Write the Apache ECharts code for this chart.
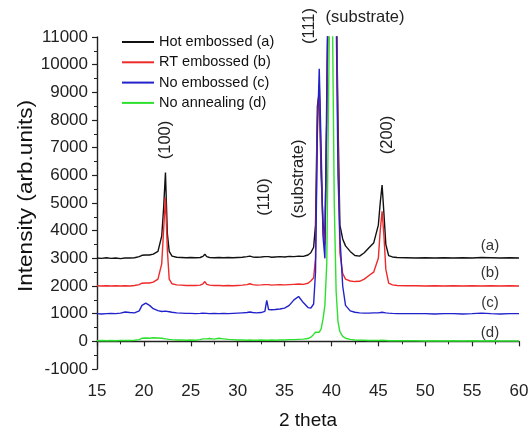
<!DOCTYPE html>
<html>
<head>
<meta charset="utf-8">
<script src="https://cdn.jsdelivr.net/npm/echarts@6/dist/echarts.min.js"></script>
<style>
html,body{margin:0;padding:0;background:#fff;}
#chart{width:532px;height:435px;}
</style>
</head>
<body>
<div id="chart"></div>
<script>
const twoTheta = [
15, 15.5, 16, 16.5, 17, 17.5, 18, 18.2, 18.5, 19,
19.5, 19.8, 20.2, 20.6, 21, 21.5, 21.9, 22.1, 22.3, 22.5,
22.7, 23, 23.5, 24, 24.5, 25, 25.5, 26, 26.3, 26.5,
26.7, 27, 27.5, 28, 28.5, 29, 29.5, 30, 30.5, 31,
31.3, 31.6, 32, 32.5, 32.9, 33.1, 33.3, 33.6, 34, 34.5,
35, 35.5, 36, 36.5, 37, 37.5, 37.8, 38.1, 38.3, 38.5,
38.7, 38.9, 39.1, 39.3, 39.5, 39.7, 39.9, 40.1, 40.3, 40.5,
40.7, 40.9, 41.2, 41.5, 42, 42.5, 43, 43.5, 44, 44.5,
45, 45.2, 45.4, 45.6, 45.8, 46.1, 46.5, 47, 48, 49,
50, 51, 52, 53, 54, 55, 56, 57, 58, 59,
60
];
const hotEmbossed = [
3010, 3000, 3020, 3000, 3010, 2990, 3010, 3030, 3010, 3020,
3060, 3110, 3120, 3120, 3150, 3250, 3800, 4800, 6100, 3900,
3250, 3080, 3040, 3030, 3020, 3030, 3020, 3030, 3070, 3150,
3060, 3030, 3020, 3030, 3020, 3030, 3020, 3030, 3040, 3060,
3080, 3050, 3040, 3050, 3060, 3110, 3060, 3040, 3050, 3060,
3050, 3070, 3060, 3080, 3070, 3120, 3200, 3400, 4200, 8500,
9000, 6000, 4300, 3700, 8000, 14000, 20000, 20000, 18000, 13000,
8000, 4200, 3700, 3450, 3250, 3100, 3080, 3200, 3380, 3550,
4200, 5000, 5650, 4600, 3500, 3100, 3050, 3030, 3020, 3010,
3020, 3010, 3020, 3010, 3020, 3010, 3030, 3020, 3010, 3020,
3010
];
const rtEmbossed = [
2010, 2000, 2010, 2000, 2010, 2000, 2010, 2020, 2000, 2020,
2050, 2100, 2110, 2110, 2140, 2250, 2800, 4000, 5200, 3300,
2250, 2080, 2040, 2030, 2020, 2020, 2020, 2030, 2080, 2160,
2060, 2030, 2020, 2020, 2010, 2020, 2010, 2020, 2030, 2050,
2080, 2050, 2030, 2040, 2050, 2100, 2050, 2030, 2040, 2050,
2040, 2050, 2060, 2070, 2060, 2100, 2180, 2300, 3000, 8000,
9300, 6500, 4000, 3500, 8000, 14000, 20000, 20000, 18000, 13000,
7000, 3200, 2450, 2250, 2180, 2160, 2170, 2250, 2380, 2500,
3000, 4000, 4700, 3800, 2600, 2100, 2040, 2020, 2010, 2010,
2000, 2010, 2000, 2010, 2000, 2010, 2000, 2010, 2000, 2010,
2000
];
const noEmbossed = [
1000, 990, 1000, 1010, 1000, 1020, 1060, 1090, 1040, 1030,
1100, 1300, 1380, 1300, 1180, 1110, 1080, 1080, 1090, 1080,
1070, 1050, 1030, 1020, 1010, 1010, 1000, 1010, 1020, 1030,
1010, 1000, 1010, 1000, 1010, 1000, 1010, 1020, 1030, 1040,
1060, 1040, 1030, 1040, 1080, 1480, 1150, 1140, 1150, 1170,
1200, 1300, 1500, 1620, 1400, 1220, 1200, 1350, 2500, 7500,
9850, 7000, 3800, 3000, 9000, 15000, 20000, 20000, 18000, 12000,
6000, 3800, 2000, 1300, 1100, 1050, 1030, 1020, 1020, 1030,
1030, 1040, 1050, 1040, 1030, 1020, 1010, 1000, 1000, 1000,
1000, 990, 1000, 1000, 990, 1000, 1020, 1000, 990, 1000,
1000
];
const noAnnealing = [
20, 30, 20, 30, 20, 30, 30, 20, 30, 40,
60, 110, 120, 110, 130, 120, 110, 100, 90, 80,
70, 60, 50, 50, 40, 50, 40, 60, 90, 150,
90, 100, 80, 110, 90, 70, 60, 50, 50, 40,
50, 40, 40, 50, 40, 50, 40, 50, 40, 50,
50, 60, 60, 70, 80, 100, 150, 250, 330, 350,
330, 450, 800, 1300, 2800, 9000, 15000, 12000, 5000, 1800,
700, 350, 180, 110, 70, 50, 40, 40, 30, 30,
30, 30, 40, 30, 30, 20, 20, 20, 20, 20,
10, 20, 10, 20, 10, 20, 10, 20, 10, 10,
10
];
const seriesNames = ['Hot embossed (a)', 'RT embossed (b)', 'No embossed (c)', 'No annealing (d)'];
const seriesValues = [hotEmbossed, rtEmbossed, noEmbossed, noAnnealing];
const seriesColors = ['#111111', '#ee2a2a', '#2222cc', '#2ee02e'];
const yAxisTitle = 'Intensity (arb.units)';
const xAxisTitle = '2 theta';
const peakLabels = [
  {text: '(100)', x: 165, y: 140, rot: true},
  {text: '(110)', x: 264, y: 197, rot: true},
  {text: '(substrate)', x: 298, y: 179, rot: true},
  {text: '(111)', x: 309, y: 26, rot: true},
  {text: '(substrate)', x: 365, y: 17, rot: false},
  {text: '(200)', x: 387, y: 135, rot: true}
];
const curveLabels = [
  {text: '(a)', x: 490, y: 246},
  {text: '(b)', x: 490, y: 273},
  {text: '(c)', x: 490, y: 303},
  {text: '(d)', x: 490, y: 333}
];

const FONT = '"Liberation Sans", Arial, sans-serif';
const chart = echarts.init(document.getElementById('chart'), null, {renderer: 'canvas'});

const series = seriesNames.map((name, i) => ({
  name: name,
  type: 'line',
  symbol: 'none',
  clip: true,
  lineStyle: {width: 1.4, color: seriesColors[i]},
  itemStyle: {color: seriesColors[i]},
  data: twoTheta.map((x, j) => [x, seriesValues[i][j]]),
  z: 2 + i
}));

const graphics = [];
peakLabels.forEach(p => {
  graphics.push({
    type: 'text', x: p.x, y: p.y, rotation: p.rot ? Math.PI / 2 : 0,
    style: {text: p.text, font: '16.5px ' + FONT, fill: '#222', align: 'center', verticalAlign: 'middle'}
  });
});
curveLabels.forEach(p => {
  graphics.push({
    type: 'text', x: p.x, y: p.y,
    style: {text: p.text, font: '15px ' + FONT, fill: '#333', align: 'center', verticalAlign: 'middle'}
  });
});
graphics.push({
  type: 'text', x: 26, y: 196, rotation: Math.PI / 2, scaleX: 1.13, scaleY: 1,
  style: {text: yAxisTitle, font: '20px ' + FONT, fill: '#111', align: 'center', verticalAlign: 'middle'}
});

chart.setOption({
  animation: false,
  backgroundColor: '#fff',
  textStyle: {fontFamily: FONT},
  grid: {left: 97, right: 13, top: 37, bottom: 64, containLabel: false},
  legend: {
    orient: 'vertical', left: 117, top: 29,
    itemWidth: 32, itemHeight: 2, itemGap: 4.3, icon: 'rect',
    textStyle: {fontSize: 14.5, color: '#111', fontFamily: FONT, lineHeight: 16},
    data: seriesNames
  },
  xAxis: {
    type: 'value', min: 15, max: 60, interval: 5,
    name: xAxisTitle, nameLocation: 'middle', nameGap: 42,
    nameTextStyle: {fontSize: 19, color: '#111', fontFamily: FONT},
    axisLine: {show: true, lineStyle: {color: '#222', width: 1.4}},
    axisTick: {show: true, length: 5, lineStyle: {color: '#222', width: 1.2}},
    minorTick: {show: true, splitNumber: 2, length: 3, lineStyle: {color: '#222', width: 1}},
    splitLine: {show: false},
    axisLabel: {fontSize: 17, color: '#222', margin: 14, fontFamily: FONT, formatter: v => String(v)}
  },
  yAxis: {
    type: 'value', min: -1000, max: 11000, interval: 1000,
    axisLine: {show: true, lineStyle: {color: '#222', width: 1.4}},
    axisTick: {show: true, length: 5, lineStyle: {color: '#222', width: 1.2}},
    minorTick: {show: true, splitNumber: 2, length: 3, lineStyle: {color: '#222', width: 1}},
    splitLine: {show: false},
    axisLabel: {fontSize: 17, color: '#222', margin: 9, fontFamily: FONT, formatter: v => String(v)}
  },
  series: series,
  graphic: graphics
});
</script>
</body>
</html>
